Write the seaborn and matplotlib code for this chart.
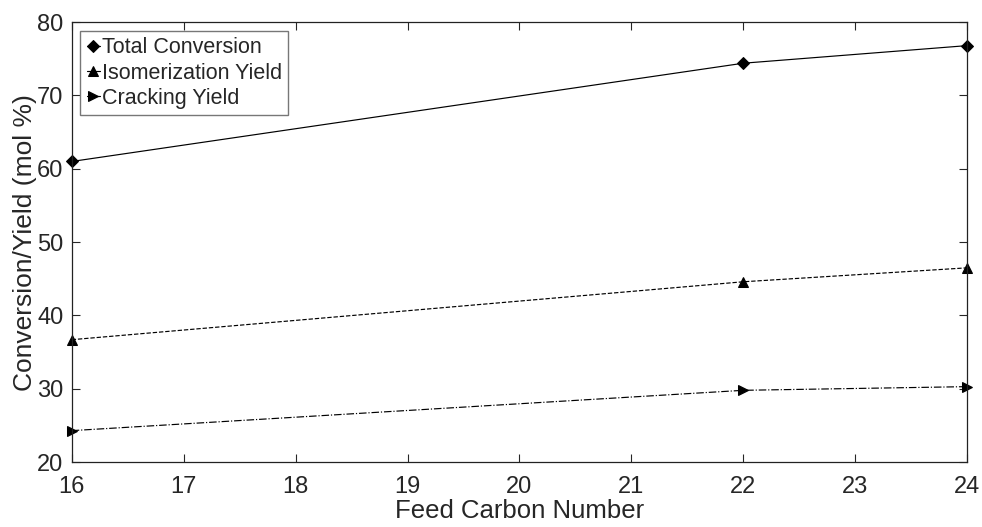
import pandas as pd
import numpy as np
import matplotlib.pyplot as plt
import seaborn as sns

carbon_number = [16, 22, 24]
total_conversion = [61.0, 74.4, 76.8]
isomerization_yield = [36.7, 44.6, 46.5]
cracking_yield = [24.3, 29.8, 30.3]

sns.set_style("ticks")
plt.rcParams['font.family'] = ['Liberation Sans', 'DejaVu Sans']

fig, ax = plt.subplots(figsize=(9.82, 5.27), dpi=100)
fig.subplots_adjust(left=0.073, right=0.985, top=0.958, bottom=0.123)

series = [
    ("Total Conversion", total_conversion, "-", "D"),
    ("Isomerization Yield", isomerization_yield, "--", "^"),
    ("Cracking Yield", cracking_yield, "-.", ">"),
]
for name, vals, ls, mk in series:
    df = pd.DataFrame({"x": carbon_number, "y": vals})
    sns.lineplot(data=df, x="x", y="y", ax=ax, color="black", linestyle=ls,
                 linewidth=0.85, marker=mk, markersize=7 if mk != "D" else 6,
                 markerfacecolor="black", markeredgecolor="black", label=name,
                 clip_on=False)

ax.set_xlim(16, 24)
ax.set_ylim(20, 80)
ax.set_xticks(range(16, 25))
ax.set_yticks(range(20, 81, 10))
ax.tick_params(direction="in", top=True, right=True, labelsize=17, length=6, width=0.8)
ax.tick_params(axis="x", pad=10)
ax.tick_params(axis="y", pad=6)
for s in ax.spines.values():
    s.set_linewidth(0.9)
    s.set_color("#222222")
ax.set_xlabel("Feed Carbon Number", fontsize=18.5, labelpad=1)
ax.set_ylabel("Conversion/Yield (mol %)", fontsize=19, labelpad=0)

leg = ax.legend(loc="upper left", fontsize=15.5, handlelength=0.6, handletextpad=0.1,
                borderaxespad=0.4, borderpad=0.3, labelspacing=0.2, fancybox=False,
                framealpha=1, edgecolor="#777777")
for h in leg.get_lines():
    h.set_linestyle("-")

fig.savefig("out.png", dpi=100)
